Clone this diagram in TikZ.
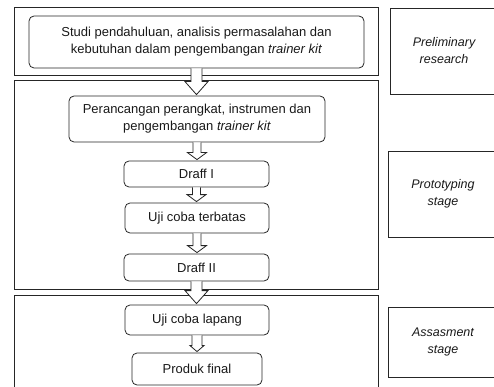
\documentclass[tikz,border=0pt]{standalone}
\usepackage{fontspec}
\setmainfont{Liberation Sans}
\usetikzlibrary{calc}

\tikzset{
  stageframe/.style={draw=black!85, line width=0.8pt, inner sep=0pt},
  stepbox/.style={draw=black!85, line width=0.8pt, rounded corners=5pt, inner sep=2pt,
    align=center, text=black!90, font=\fontsize{13}{17}\selectfont},
  stagebox/.style={draw=black!85, line width=0.8pt, inner sep=2pt, align=center,
    text=black!90, font=\fontsize{12.5}{17}\selectfont\itshape},
  hollowarrow/.style={draw=black!85, fill=white, line width=0.8pt, line join=miter}
}

% hollow block arrow from #1 down to #2 (half shaft, half head, head length)
\newcommand{\blockarrow}[5]{%
  \draw[hollowarrow] let \p1=(#1.south), \p2=(#2.north) in
    (\x1-#3,\y1) -- (\x1-#3,\y2+#5) -- (\x1-#4,\y2+#5) -- (\x1,\y2+1pt)
    -- (\x1+#4,\y2+#5) -- (\x1+#3,\y2+#5) -- (\x1+#3,\y1);}

\begin{document}
\begin{tikzpicture}[x=1pt, y=-1pt]
\useasboundingbox (0,0) rectangle (494,387);
\clip (0,0) rectangle (494,387);
\begin{scope}
    % stage frames
    \node[stageframe, minimum width=364pt, minimum height=68pt] (frame1) at (196,41) {};
    \node[stageframe, minimum width=364pt, minimum height=209pt] (frame2) at (196,184.5) {};
    \node[stageframe, minimum width=364pt, minimum height=105pt] (frame3) at (196,347.5) {};

    % steps
    \node[stepbox, minimum width=335pt, minimum height=52pt] (studi) at (196.5,42)
      {Studi pendahuluan, analisis permasalahan dan\\kebutuhan dalam pengembangan \textit{trainer kit}};
    \node[stepbox, minimum width=256pt, minimum height=46pt] (rancang) at (197,119)
      {Perancangan perangkat, instrumen dan\\pengembangan \textit{trainer kit}};
    \node[stepbox, minimum width=145pt, minimum height=26pt] (draff1) at (196.5,174) {Draff I};
    \node[stepbox, minimum width=144pt, minimum height=30pt] (terbatas) at (197,218) {Uji coba terbatas};
    \node[stepbox, minimum width=145pt, minimum height=27pt] (draff2) at (196.5,267.5) {Draff II};
    \node[stepbox, minimum width=144pt, minimum height=30pt] (lapang) at (197,320) {Uji coba lapang};
    \node[stepbox, minimum width=130pt, minimum height=32pt] (final) at (197,369) {Produk final};

    % stage names
    \node[stagebox, minimum width=108pt, minimum height=86pt] (prelim) at (444,51) {Preliminary\\research};
    \node[stagebox, minimum width=110pt, minimum height=86pt] (proto) at (443,194) {Prototyping\\stage};
    \node[stagebox, minimum width=110pt, minimum height=70pt] (assess) at (443,342) {Assasment\\stage};

    % arrows
    \blockarrow{studi}{rancang}{5.5pt}{11.5pt}{14pt}
    \blockarrow{rancang}{draff1}{4pt}{9.5pt}{8pt}
    \blockarrow{draff1}{terbatas}{4pt}{9.5pt}{8pt}
    \blockarrow{terbatas}{draff2}{4pt}{9.5pt}{8pt}
    \blockarrow{draff2}{lapang}{5.5pt}{11.5pt}{14pt}
    \blockarrow{lapang}{final}{5pt}{7pt}{7pt}
\end{scope}
\end{tikzpicture}
\end{document}
